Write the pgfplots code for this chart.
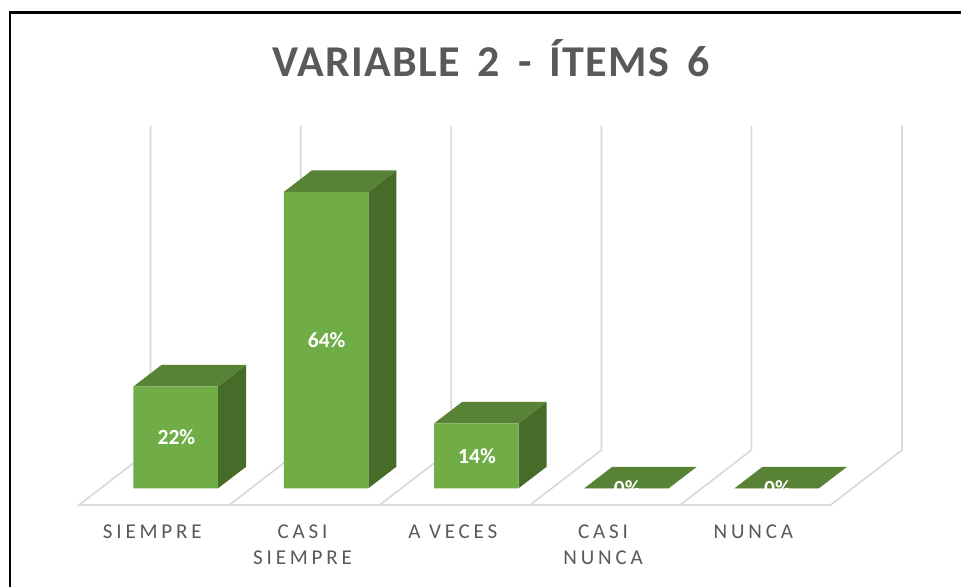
\documentclass[border=0pt]{standalone}
\usepackage{pgfplots}
\pgfplotsset{compat=1.18}
\usepackage{fontspec}
\setmainfont{Carlito}
\newfontfamily\labfont[LetterSpace=18]{Carlito}
\newfontfamily\titlefont[LetterSpace=3,WordSpace=1.6]{Carlito}
\definecolor{txt}{HTML}{595959}
\definecolor{gridc}{HTML}{D9D9D9}
\definecolor{front}{HTML}{70AD47}
\definecolor{topf}{HTML}{588235}
\definecolor{sidef}{HTML}{476C29}
\begin{document}
\begin{tikzpicture}
\useasboundingbox (0pt,-74.025pt) rectangle (720.75pt,366.225pt);
\begin{axis}[
  scale only axis, width=720.75pt, height=366.225pt,
  xmin=-1.1697, xmax=5.2263, ymin=0, ymax=105.46,
  clip=false,
  axis line style={draw=none}, tick style={draw=none},
  ytick=\empty,
  xtick={0,1,2,3,4},
  xticklabels={SIEMPRE,{CASI\\SIEMPRE},A VECES,{CASI\\NUNCA},NUNCA},
  xticklabel style={align=center, anchor=north, xshift=-17.6pt, yshift=-24pt,
    text=txt, font=\labfont\fontsize{15.8}{19.6}\selectfont},
  title={VARIABLE 2 - ÍTEMS 6},
  title style={at={(rel axis cs:0.5109,0.865)}, anchor=center, text=txt,
    font=\titlefont\bfseries\fontsize{33}{38}\selectfont},
]
% floor and wall lines
\addplot[gridc, line width=1.25pt] coordinates {(-0.168,78.25) (-0.168,8.27) (-0.644,-3.61) (4.358,-3.61) (4.834,8.27) (4.834,78.25)};
\addplot[gridc, line width=1.25pt] coordinates {(0.832,78.25) (0.832,8.27) (0.356,-3.61)};
\addplot[gridc, line width=1.25pt] coordinates {(1.833,78.25) (1.833,8.27) (1.357,-3.61)};
\addplot[gridc, line width=1.25pt] coordinates {(2.834,78.25) (2.834,8.27) (2.358,-3.61)};
\addplot[gridc, line width=1.25pt] coordinates {(3.832,78.25) (3.832,8.27) (3.356,-3.61)};
% side faces
\addplot[fill=sidef, draw=none] coordinates {(0.2812,0) (0.2812,22) (0.4676,26.644) (0.4676,4.644)} -- cycle;
\addplot[fill=sidef, draw=none] coordinates {(1.2812,0) (1.2812,64) (1.4676,68.644) (1.4676,4.644)} -- cycle;
\addplot[fill=sidef, draw=none] coordinates {(2.2812,0) (2.2812,14) (2.4676,18.644) (2.4676,4.644)} -- cycle;
% top faces
\addplot[fill=topf, draw=none] coordinates {(-0.2812,22) (0.2812,22) (0.4676,26.644) (-0.0948,26.644)} -- cycle;
\addplot[fill=topf, draw=none] coordinates {(0.7188,64) (1.2812,64) (1.4676,68.644) (0.9052,68.644)} -- cycle;
\addplot[fill=topf, draw=none] coordinates {(1.7188,14) (2.2812,14) (2.4676,18.644) (1.9052,18.644)} -- cycle;
\addplot[fill=topf, draw=none] coordinates {(2.7188,0) (3.2812,0) (3.4676,4.644) (2.9052,4.644)} -- cycle;
\addplot[fill=topf, draw=none] coordinates {(3.7188,0) (4.2812,0) (4.4676,4.644) (3.9052,4.644)} -- cycle;
% front faces
\addplot[ybar, bar width=63.375pt, fill=front, draw=none] coordinates {(0,22) (1,64) (2,14) (3,0) (4,0)};
% data labels at mid-height of the bars
\addplot[only marks, mark=none, point meta=explicit,
  nodes near coords={\pgfmathprintnumber[assume math mode=true,precision=0]{\pgfplotspointmeta}\%},
  every node near coord/.append style={anchor=center, text=white, xshift=0.5pt,
    font=\bfseries\fontsize{16.2}{18}\selectfont}]
  table[x=x, y=mid, meta=val] {
x mid val
0 11 22
1 32 64
2 7 14
3 0 0
4 0 0
};
\end{axis}
\draw[black, line width=1.9pt] (7.5pt,-74.025pt) -- (7.5pt,356.85pt) -- (720.75pt,356.85pt);
\end{tikzpicture}
\end{document}
